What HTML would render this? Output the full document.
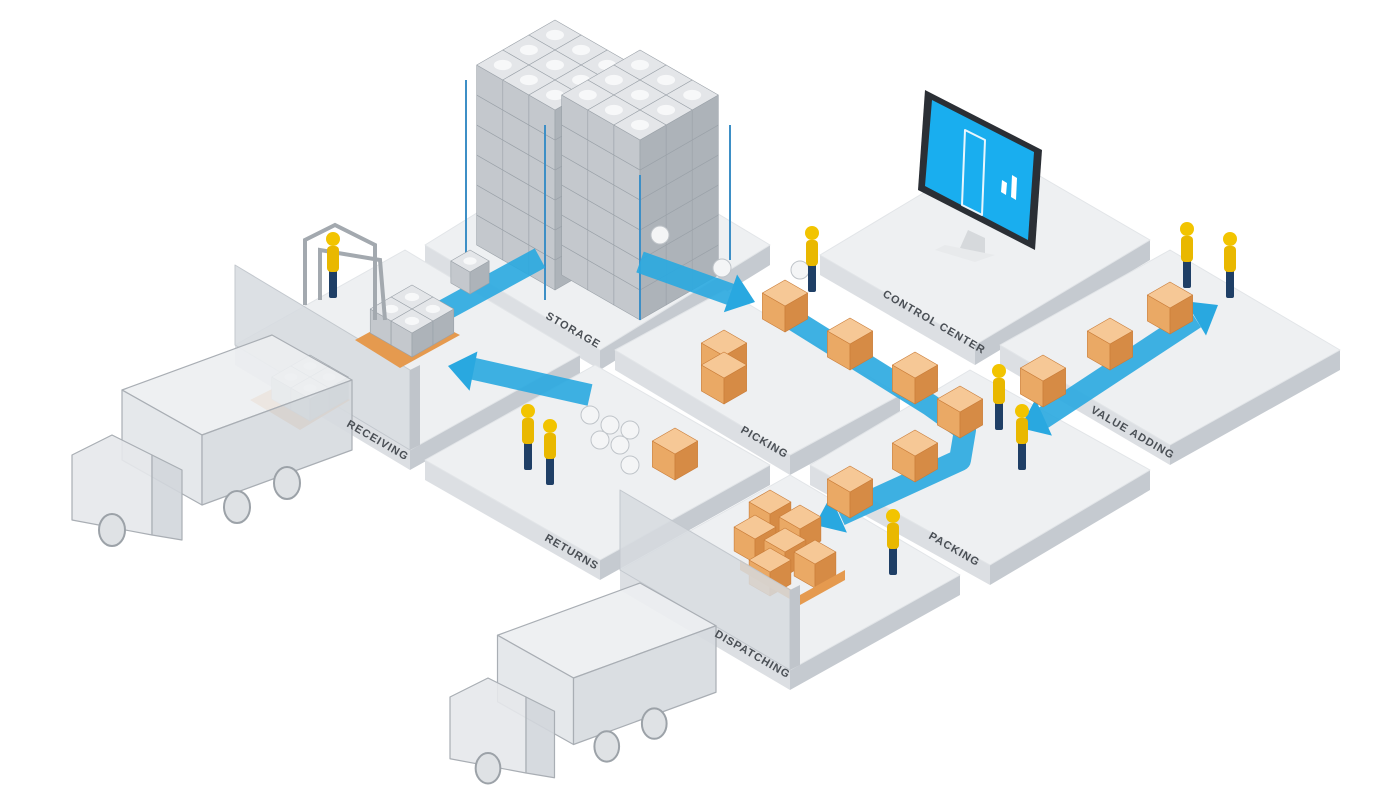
<!DOCTYPE html>
<html><head><meta charset="utf-8"><style>
html,body{margin:0;padding:0;background:#fff;}
svg{display:block}
text{font-family:"Liberation Sans",sans-serif;font-size:11px;fill:#4a4f55;font-weight:bold;letter-spacing:1px}
</style></head><body>
<svg id="s" width="1400" height="788" viewBox="0 0 1400 788" xmlns="http://www.w3.org/2000/svg">
<g id="g"></g>
<g>
<text transform="translate(545,318) rotate(30)">STORAGE</text>
<text transform="translate(346,426) rotate(30)">RECEIVING</text>
<text transform="translate(740,432) rotate(30)">PICKING</text>
<text transform="translate(882,296) rotate(30)">CONTROL CENTER</text>
<text transform="translate(1090,412) rotate(30)">VALUE ADDING</text>
<text transform="translate(544,540) rotate(30)">RETURNS</text>
<text transform="translate(928,538) rotate(30)">PACKING</text>
<text transform="translate(714,636) rotate(30)">DISPATCHING</text>
</g>
</svg>
<script>
const G=document.getElementById('g');const NS='http://www.w3.org/2000/svg';
function el(t,a){const e=document.createElementNS(NS,t);for(const k in a)e.setAttribute(k,a[k]);G.appendChild(e);return e;}
function P(pts,fill,stroke,sw){return el('polygon',{points:pts.map(p=>p.join(',')).join(' '),fill:fill,stroke:stroke||'none','stroke-width':sw||1,'stroke-linejoin':'round'});}
function plat(L,B,R,h){const T=[L[0]+R[0]-B[0],L[1]+R[1]-B[1]];
P([L,B,[B[0],B[1]+h],[L[0],L[1]+h]],'#dcdfe3');
P([B,R,[R[0],R[1]+h],[B[0],B[1]+h]],'#c5cad0');
P([T,R,B,L],'#eef0f2','#e2e5e8');}
function wall(L,B,H){P([[L[0],L[1]-H],[B[0],B[1]-H],B,L],'rgba(214,218,223,0.85)','#c3c8ce',1);
P([[B[0],B[1]-H],[B[0]+10,B[1]-H-5],[B[0]+10,B[1]-5],B],'#c0c5cb');}
function cube(x,y,e,c){const a=.87*e,b=.5*e;
P([[x-a,y+b],[x,y+e],[x,y+2*e],[x-a,y+e+b]],c[1],c[3]||'none',.6);
P([[x,y+e],[x+a,y+b],[x+a,y+e+b],[x,y+2*e]],c[2],c[3]||'none',.6);
P([[x,y],[x+a,y+b],[x,y+e],[x-a,y+b]],c[0],c[3]||'none',.6);}
const GR=['#e4e6e9','#c4c8cd','#adb3b9','#9aa1a8'],OR=['#f6c896','#eaa965','#d68b45','#c97c38'];
function tower(X,Y,n,m,K,e){for(let k=0;k<K;k++)for(let s=0;s<=n+m-2;s++)for(let i=0;i<n;i++){const j=s-i;if(j<0||j>=m)continue;
const x=X+(i-j)*.87*e,y=Y+(i+j)*.5*e-k*e;cube(x,y,e,GR);el('ellipse',{cx:x,cy:y+e*.5,rx:e*.3,ry:e*.17,fill:'#f7f8f9'});}}
function person(x,y){el('rect',{x:x-4,y:y,width:8,height:30,fill:'#1f3f66',rx:2});
el('rect',{x:x-6,y:y-22,width:12,height:26,fill:'#e9b800',rx:4});el('circle',{cx:x,cy:y-29,r:7,fill:'#f2c400'});}
function arrow(pts,w){el('polyline',{points:pts.map(p=>p.join(',')).join(' '),fill:'none',stroke:'#29a8e0','stroke-width':w||22,'stroke-linejoin':'round',opacity:.9});}
function head(tip,dir){const [dx,dy]=dir;const l=Math.hypot(dx,dy),ux=dx/l,uy=dy/l,nx=-uy,ny=ux;
P([tip,[tip[0]-ux*26+nx*20,tip[1]-uy*26+ny*20],[tip[0]-ux*26-nx*20,tip[1]-uy*26-ny*20]],'#29a8e0');}
// platforms
plat([425,245],[600,350],[770,245],20);
plat([820,255],[975,345],[1150,240],20);
plat([235,345],[410,450],[580,355],20);
plat([615,350],[790,455],[900,395],20);
plat([1000,345],[1170,445],[1340,350],20);
plat([425,460],[600,560],[770,465],20);
plat([810,465],[990,565],[1150,470],20);
plat([620,570],[790,670],[960,575],20);
// trucks
function truck(x,y,s){const g=(pts,f)=>P(pts.map(p=>[x+p[0]*s,y+p[1]*s]),f||'rgba(226,229,233,.9)','#a9aeb4',1.2);
g([[50,55],[200,0],[280,45],[130,100]],'rgba(236,238,241,.9)');g([[50,55],[130,100],[130,170],[50,125]]);g([[130,100],[280,45],[280,115],[130,170]],'rgba(214,218,223,.9)');
g([[0,120],[40,100],[80,120],[80,200],[0,185]],'rgba(230,232,235,.9)');g([[80,120],[110,135],[110,205],[80,200]],'rgba(210,214,219,.9)');
[[40,195],[165,172],[215,148]].forEach(c=>el('ellipse',{cx:x+c[0]*s,cy:y+c[1]*s,rx:13*s,ry:16*s,fill:'#dfe2e5',stroke:'#9ca2a8','stroke-width':2}));}
// walls
wall([235,345],[410,450],80);
// racks
tower(555,170,3,3,6,30);tower(640,200,3,3,6,30);
// blue rack posts
[[466,80,260],[545,125,300],[640,175,320],[730,125,260]].forEach(p=>el('line',{x1:p[0],y1:p[1],x2:p[0],y2:p[2],stroke:'#3d8fc6','stroke-width':2}));
// monitor
P([[925,90],[1042,150],[1035,250],[918,190]],'#2b2f35');
P([[932,100],[1034,152],[1028,240],[925,186]],'#19aeef');
P([[965,130],[985,140],[982,215],[962,205]],'none','#e8f6fd',2);
P([[1002,180],[1007,183],[1006,195],[1001,192]],'#fff');P([[1012,175],[1017,178],[1016,200],[1011,197]],'#fff');
P([[968,230],[985,238],[985,255],[960,248]],'#d6d9dc');
P([[945,245],[995,255],[975,262],[935,250]],'#e8eaec');
// arrows
arrow([[540,258],[430,318]]);head([412,330],[-1,.55]);
arrow([[590,395],[470,368]]);head([448,366],[-1,-.2]);
arrow([[640,262],[735,296]]);head([755,302],[1,.35]);
arrow([[770,305],[930,405],[965,430],[960,460],[840,515]]);head([815,525],[-1,.45]);
arrow([[1040,420],[1195,318]]);head([1218,305],[1,-.6]);head([1020,428],[-1,.45]);
// orange boxes
[[785,280],[850,318],[915,352],[1043,355],[1110,318],[1170,282],[915,430],[850,466],[675,428],[724,330],[724,352],[960,386]].forEach(p=>cube(p[0],p[1],26,OR));
[[770,490],[800,505],[755,515],[785,528],[815,540],[770,548]].forEach(p=>cube(p[0],p[1],24,OR));
P([[740,560],[800,595],[845,570],[845,580],[800,605],[740,570]],'#e59a4f');
// pallets with grey boxes
P([[355,340],[410,310],[460,335],[400,368]],'#e59a4f');tower(412,285,2,2,1,24);tower(470,250,1,1,1,22);
P([[250,400],[300,375],[350,400],[300,430]],'#e59a4f');tower(310,355,2,2,1,22);
truck(72,335,1);
wall([620,570],[790,670],80);
truck(450,583,0.95);
// balls
[[660,235],[722,268],[800,270],[590,415],[610,425],[630,430],[600,440],[620,445],[630,465]].forEach(p=>{el('circle',{cx:p[0],cy:p[1],r:9,fill:'#f4f5f6',stroke:'#bfc4c9'});});
// forklift frame
el('path',{d:'M305,305 L305,240 L335,225 L375,245 L375,320 M320,300 L320,250 L380,260 L385,320',fill:'none',stroke:'#a3a9af','stroke-width':4});
// people
[[333,268],[812,262],[1187,258],[1230,268],[999,400],[1022,440],[528,440],[550,455],[893,545]].forEach(p=>person(p[0],p[1]));
</script>
</body></html>
